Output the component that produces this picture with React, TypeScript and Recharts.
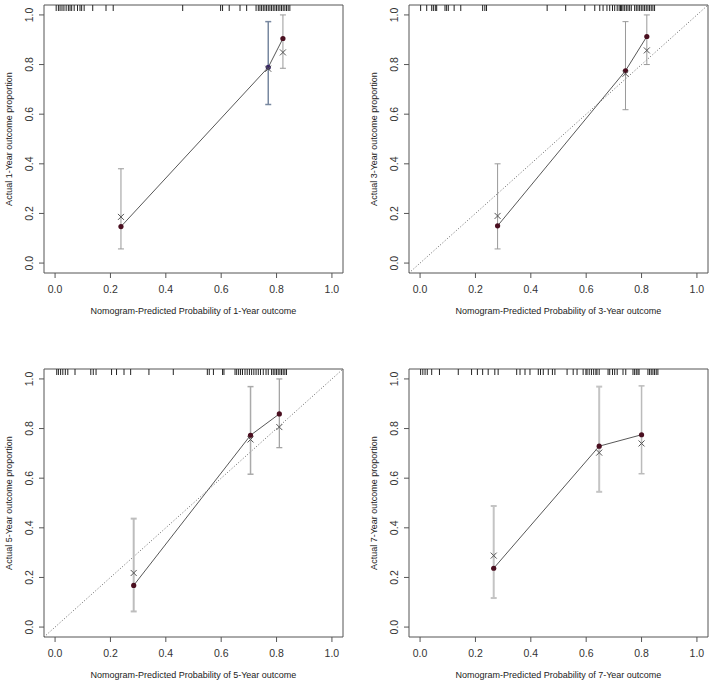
import React from 'react';
import {
  ScatterChart,
  Scatter,
  XAxis,
  YAxis,
  ErrorBar,
  ReferenceArea,
  ReferenceLine,
  Label
} from 'recharts';

const LIM: [number, number] = [-0.04, 1.04];
const axisTicks = [0, 0.2, 0.4, 0.6, 0.8, 1.0];
const tickLabels = ['0.0', '0.2', '0.4', '0.6', '0.8', '1.0'];

// 1-year
const rug1 = [
  0.004, 0.012, 0.018, 0.025, 0.032, 0.04, 0.048, 0.054, 0.06, 0.069, 0.081, 0.09, 0.096, 0.105,
  0.136, 0.184, 0.21, 0.461, 0.598, 0.605, 0.629, 0.668, 0.692, 0.726, 0.734, 0.74, 0.746, 0.752,
  0.758, 0.764, 0.77, 0.776, 0.782, 0.788, 0.794, 0.8, 0.806, 0.812, 0.818, 0.824, 0.83, 0.836,
  0.842, 0.848
];
const pred1 = [0.238, 0.77, 0.823];
const obs1 = [0.147, 0.789, 0.905];
const corr1 = [0.186, 0.783, 0.849];
const lower1 = [0.057, 0.639, 0.785];
const upper1 = [0.38, 0.973, 1.0];

// 3-year
const rug3 = [
  0.002, 0.024, 0.042, 0.048, 0.055, 0.06, 0.09, 0.096, 0.102, 0.123, 0.147, 0.226, 0.234, 0.24,
  0.459, 0.526, 0.595, 0.631, 0.649, 0.661, 0.675, 0.685, 0.695, 0.703, 0.712, 0.719, 0.724, 0.728,
  0.733, 0.739, 0.745, 0.751, 0.757, 0.763, 0.775, 0.781, 0.787, 0.793, 0.799, 0.805, 0.811, 0.817,
  0.823, 0.829, 0.835, 0.841, 0.847
];
const pred3 = [0.28, 0.742, 0.819];
const obs3 = [0.15, 0.775, 0.913];
const corr3 = [0.19, 0.763, 0.857];
const lower3 = [0.057, 0.618, 0.8];
const upper3 = [0.4, 0.973, 1.0];

// 5-year
const rug5 = [
  0.006, 0.012, 0.02, 0.028, 0.037, 0.046, 0.072, 0.129, 0.138, 0.148, 0.204, 0.222, 0.249, 0.273,
  0.339, 0.427, 0.55, 0.557, 0.572, 0.605, 0.61, 0.65, 0.656, 0.663, 0.67, 0.677, 0.686, 0.694,
  0.702, 0.71, 0.718, 0.726, 0.734, 0.742, 0.752, 0.762, 0.77, 0.782, 0.788, 0.794, 0.8, 0.806,
  0.812, 0.818, 0.824, 0.83, 0.836
];
const pred5 = [0.284, 0.706, 0.81];
const obs5 = [0.168, 0.773, 0.859];
const corr5 = [0.218, 0.756, 0.806];
const lower5 = [0.063, 0.616, 0.723];
const upper5 = [0.437, 0.969, 1.0];

// 7-year
const rug7 = [
  0.002, 0.01, 0.018, 0.026, 0.042, 0.07, 0.138, 0.186, 0.207, 0.226, 0.246, 0.27, 0.282, 0.349,
  0.361, 0.379, 0.397, 0.427, 0.435, 0.445, 0.463, 0.478, 0.487, 0.531, 0.553, 0.567, 0.589, 0.599,
  0.603, 0.611, 0.619, 0.627, 0.635, 0.639, 0.647, 0.679, 0.685, 0.695, 0.703, 0.712, 0.733, 0.743,
  0.769, 0.775, 0.781, 0.787, 0.791, 0.823, 0.829, 0.835, 0.841, 0.847, 0.853, 0.859
];
const pred7 = [0.266, 0.647, 0.8];
const obs7 = [0.237, 0.729, 0.775];
const corr7 = [0.288, 0.703, 0.74];
const lower7 = [0.117, 0.545, 0.618];
const upper7 = [0.488, 0.969, 0.972];

const FONT = '"Liberation Sans", Arial, sans-serif';
const W = 347;
const H = 319;
const PLOT_L = 44;
const PLOT_R = 343;
const PLOT_T = 5;
const PLOT_B = 273;

const XTick = (props: any) => {
  const { x, y, payload } = props;
  const i = axisTicks.indexOf(payload.value);
  return (
    <text x={x} y={y + 9} dy="0.35em" textAnchor="middle" fontSize={10.5} fill="#333" fontFamily={FONT}>
      {tickLabels[i]}
    </text>
  );
};

const YTick = (props: any) => {
  const { x, y, payload } = props;
  const i = axisTicks.indexOf(payload.value);
  const cx = x - 8;
  return (
    <text
      x={cx}
      y={y}
      dy="0.35em"
      textAnchor="middle"
      fontSize={10.5}
      fill="#333"
      fontFamily={FONT}
      transform={`rotate(-90 ${cx} ${y})`}
    >
      {tickLabels[i]}
    </text>
  );
};

const RugTick = (props: any) => (
  <line x1={props.cx} x2={props.cx} y1={props.cy} y2={props.cy + 6} stroke="#222" strokeWidth={1} />
);
const Empty = () => <g />;
const Dot = (props: any) => <circle cx={props.cx} cy={props.cy} r={2.6} fill={props.payload.c} />;
const Cross = (props: any) => {
  const { cx, cy } = props;
  return (
    <g stroke="#555" strokeWidth={1}>
      <line x1={cx - 3} y1={cy - 3} x2={cx + 3} y2={cy + 3} />
      <line x1={cx - 3} y1={cy + 3} x2={cx + 3} y2={cy - 3} />
    </g>
  );
};

interface CalProps {
  year: number;
  rug: number[];
  pred: number[];
  obs: number[];
  corr: number[];
  lower: number[];
  upper: number[];
  diag: boolean;
  barColors: string[];
  barWidths: number[];
  dotColors: string[];
}

function CalPlot({ year, rug, pred, obs, corr, lower, upper, diag, barColors, barWidths, dotColors }: CalProps) {
  const obsData = pred.map((x, i) => ({ x, y: obs[i], c: dotColors[i] }));
  const corrData = pred.map((x, i) => ({ x, y: corr[i] }));
  const rugData = rug.map((x) => ({ x, y: LIM[1] }));
  const barData = pred.map((x, i) => ({ x, y: obs[i], err: [obs[i] - lower[i], upper[i] - obs[i]] }));

  return (
    <ScatterChart width={W} height={H} margin={{ top: PLOT_T, right: W - PLOT_R, bottom: 6, left: 10 }}>
      <XAxis
        type="number"
        dataKey="x"
        domain={LIM}
        ticks={axisTicks}
        interval={0}
        allowDataOverflow
        axisLine={false}
        tickLine={{ stroke: '#555' }}
        tickSize={5}
        height={H - PLOT_B - 6}
        tick={<XTick />}
      >
        <Label
          content={() => (
            <text
              x={(PLOT_L + PLOT_R) / 2}
              y={PLOT_B + 38}
              dy="0.35em"
              textAnchor="middle"
              fontSize={9}
              fill="#222"
              fontFamily={FONT}
            >
              {`Nomogram-Predicted Probability of ${year}-Year outcome`}
            </text>
          )}
        />
      </XAxis>
      <YAxis
        type="number"
        dataKey="y"
        domain={LIM}
        ticks={axisTicks}
        interval={0}
        allowDataOverflow
        axisLine={false}
        tickLine={{ stroke: '#555' }}
        tickSize={5}
        width={PLOT_L - 10}
        tick={<YTick />}
      >
        <Label
          content={() => (
            <text
              x={PLOT_L - 35.5}
              y={(PLOT_T + PLOT_B) / 2}
              dy="0.35em"
              textAnchor="middle"
              fontSize={9}
              fill="#222"
              fontFamily={FONT}
              transform={`rotate(-90 ${PLOT_L - 35.5} ${(PLOT_T + PLOT_B) / 2})`}
            >
              {`Actual ${year}-Year outcome proportion`}
            </text>
          )}
        />
      </YAxis>
      <ReferenceArea
        x1={LIM[0]}
        x2={LIM[1]}
        y1={LIM[0]}
        y2={LIM[1]}
        fill="none"
        stroke="#555"
        strokeWidth={1}
        ifOverflow="visible"
      />
      {diag && (
        <ReferenceLine
          segment={[
            { x: LIM[0], y: LIM[0] },
            { x: LIM[1], y: LIM[1] }
          ]}
          stroke="#666"
          strokeWidth={1}
          strokeDasharray="1 2"
          ifOverflow="visible"
        />
      )}
      <Scatter data={rugData} shape={RugTick} isAnimationActive={false} />
      {barData.map((d, i) => (
        <Scatter key={i} data={[d]} shape={Empty} isAnimationActive={false}>
          <ErrorBar
            dataKey="err"
            direction="y"
            width={3}
            stroke={barColors[i]}
            strokeWidth={barWidths[i]}
            isAnimationActive={false}
          />
        </Scatter>
      ))}
      <Scatter
        data={obsData}
        line={{ stroke: '#444', strokeWidth: 0.9 }}
        shape={Dot}
        isAnimationActive={false}
      />
      <Scatter data={corrData} shape={Cross} isAnimationActive={false} />
    </ScatterChart>
  );
}

const maroon = '#4a0f20';

export default function App() {
  const box = (left: number, top: number): React.CSSProperties => ({ position: 'absolute', left, top });
  return (
    <div
      style={{
        position: 'absolute',
        left: 0,
        top: 0,
        width: 712,
        height: 683,
        background: '#fff',
        overflow: 'hidden',
        fontFamily: FONT
      }}
    >
      <div style={box(0, 0)}>
        <CalPlot
          year={1}
          rug={rug1}
          pred={pred1}
          obs={obs1}
          corr={corr1}
          lower={lower1}
          upper={upper1}
          diag={false}
          barColors={['#999', '#7888a0', '#999']}
          barWidths={[1, 1.5, 1]}
          dotColors={[maroon, '#3a2766', maroon]}
        />
      </div>
      <div style={box(365, 0)}>
        <CalPlot
          year={3}
          rug={rug3}
          pred={pred3}
          obs={obs3}
          corr={corr3}
          lower={lower3}
          upper={upper3}
          diag={true}
          barColors={['#9a9a9a', '#9a9a9a', '#9a9a9a']}
          barWidths={[1, 1, 1]}
          dotColors={[maroon, maroon, maroon]}
        />
      </div>
      <div style={box(0, 364)}>
        <CalPlot
          year={5}
          rug={rug5}
          pred={pred5}
          obs={obs5}
          corr={corr5}
          lower={lower5}
          upper={upper5}
          diag={true}
          barColors={['#bdbdbd', '#aaaaaa', '#9e9e9e']}
          barWidths={[2, 1.5, 1.2]}
          dotColors={[maroon, maroon, maroon]}
        />
      </div>
      <div style={box(365, 364)}>
        <CalPlot
          year={7}
          rug={rug7}
          pred={pred7}
          obs={obs7}
          corr={corr7}
          lower={lower7}
          upper={upper7}
          diag={false}
          barColors={['#c4c4c4', '#c4c4c4', '#bbbbbb']}
          barWidths={[2, 2, 1.5]}
          dotColors={[maroon, maroon, maroon]}
        />
      </div>
    </div>
  );
}
